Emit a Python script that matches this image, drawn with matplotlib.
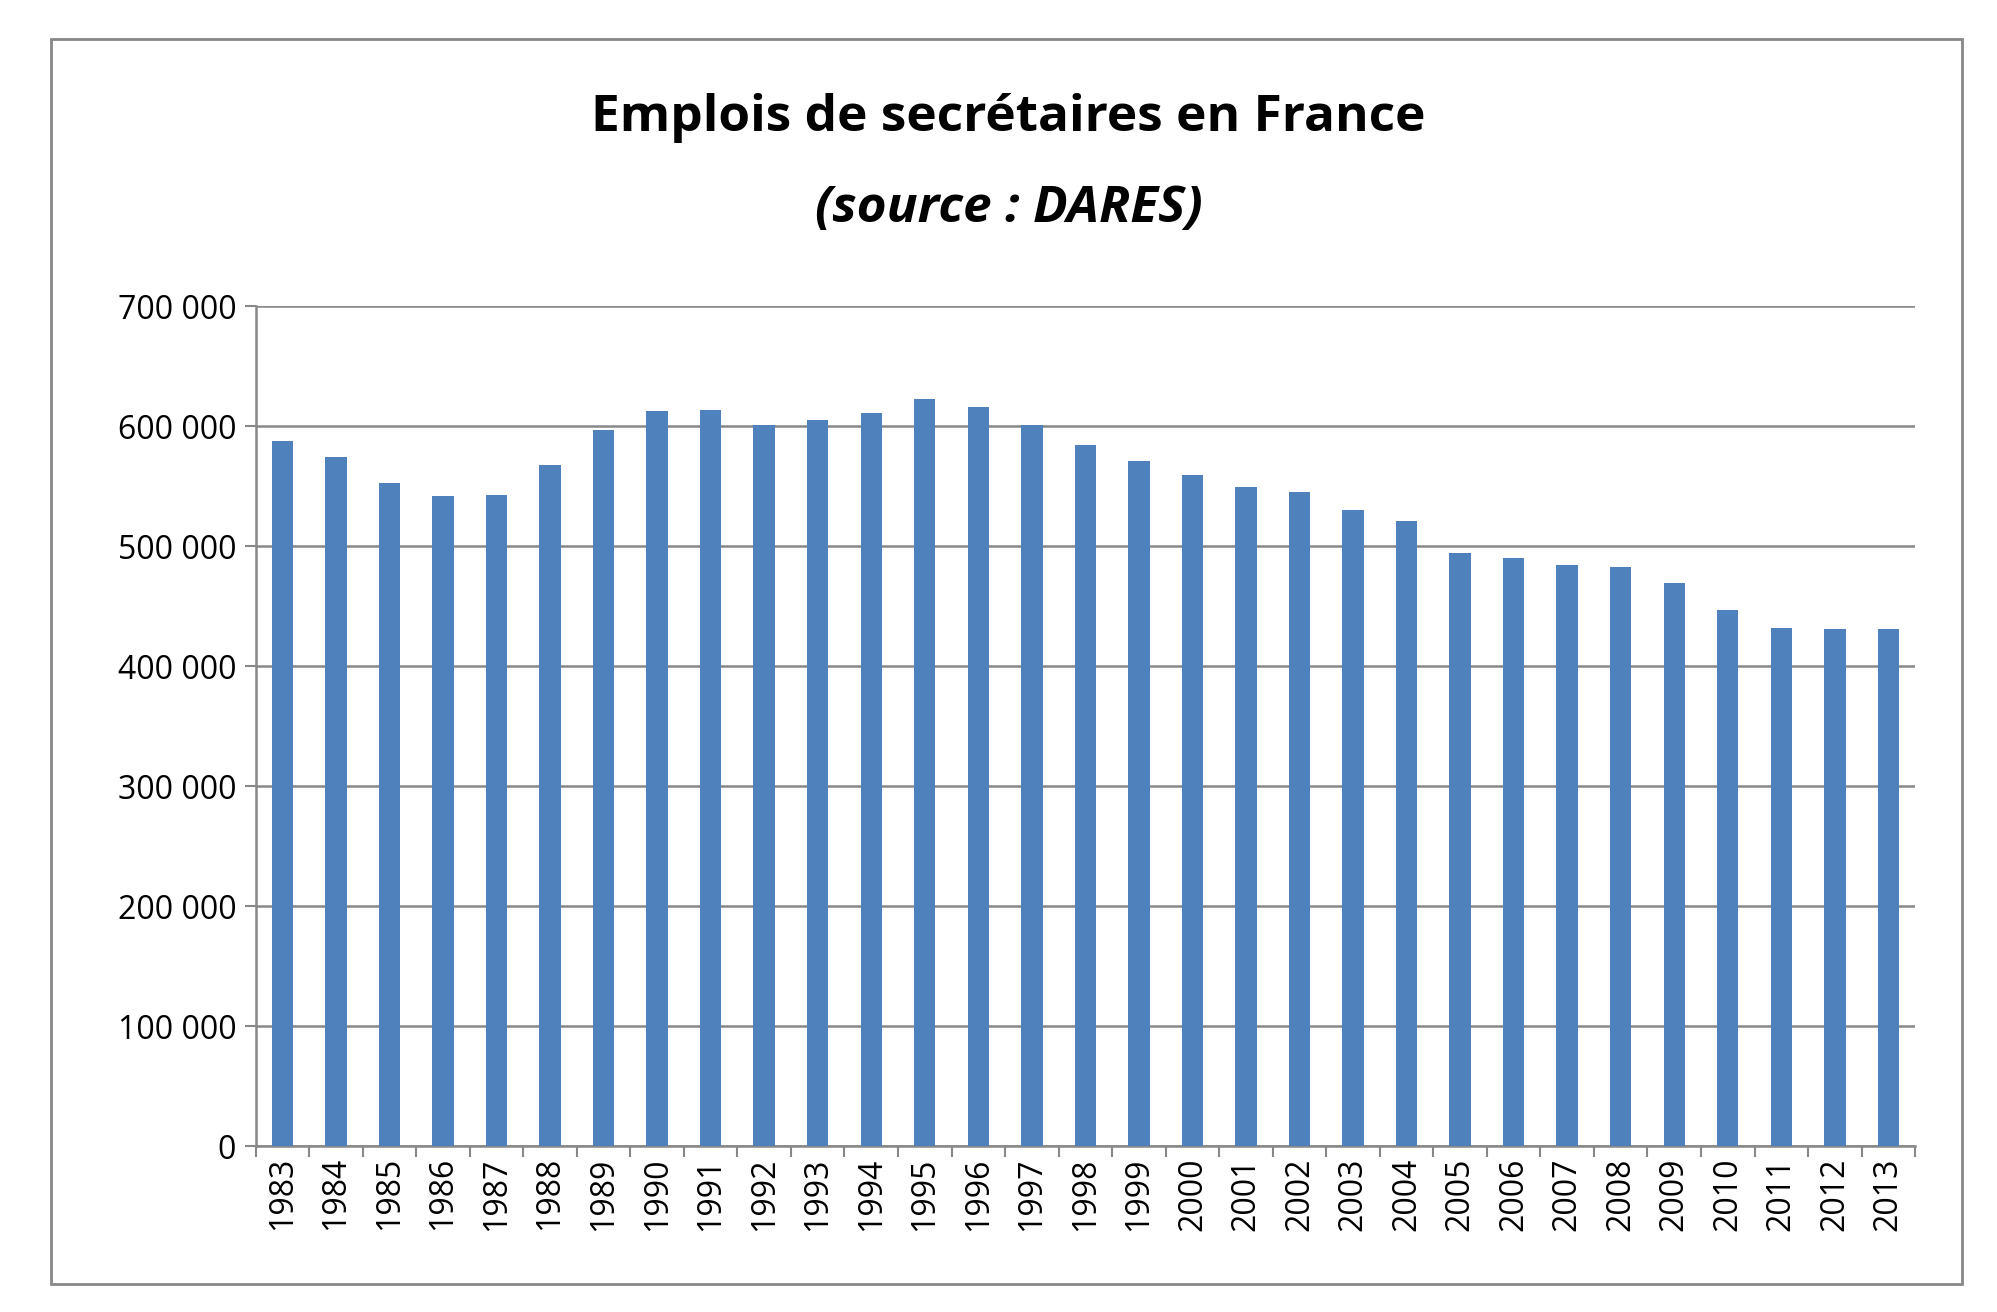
import numpy as np
import matplotlib.pyplot as plt
from matplotlib.patches import Rectangle

years = [str(y) for y in range(1983, 2014)]
emplois = [588000, 574000, 553000, 542000, 543000, 568000, 597000, 613000,
           614000, 601000, 605000, 611000, 623000, 616000, 601000, 584000,
           571000, 559000, 549000, 545000, 530000, 521000, 494000, 490000,
           484000, 483000, 469000, 447000, 432000, 431000, 431000]
yticks = list(range(0, 700001, 100000))

plt.rcParams['font.family'] = 'Open Sans'

fig = plt.figure(figsize=(19.97, 13.12), dpi=100)
fig.patches.append(Rectangle((40 / 1552, 1 - 998 / 1020), 1485 / 1552, 968 / 1020,
                             transform=fig.transFigure, fill=False,
                             ec='#888888', lw=2))
ax = fig.add_axes([0.128, 0.1265, 0.831, 0.64])

x = np.arange(len(years))
ax.bar(x, emplois, width=0.4, color='#4F81BD', zorder=3)

ax.set_xlim(-0.5, len(years) - 0.5)
ax.set_ylim(0, 700000)
ax.set_yticks(yticks)
ax.set_yticklabels([f'{v:,}'.replace(',', ' ') for v in yticks], fontsize=23)
ax.set_xticks(x)
ax.set_xticklabels(years, rotation=90, fontsize=23)
ax.tick_params(axis='x', length=0, pad=8)
ax.set_xticks(np.arange(-0.5, len(years)), minor=True)
ax.tick_params(axis='x', which='minor', length=8, color='#888888', width=1.5)
ax.tick_params(axis='y', length=8, color='#888888', width=1.5, pad=6)
ax.grid(axis='y', color='#888888', lw=1.8, zorder=0)
for s in ['top', 'right']:
    ax.spines[s].set_visible(False)
for s in ['left', 'bottom']:
    ax.spines[s].set_color('#888888')
    ax.spines[s].set_linewidth(1.8)

fig.text(0.505, 0.91, 'Emplois de secrétaires en France', ha='center',
         va='center', fontsize=37, fontweight='bold')
fig.text(0.505, 0.841, '(source : DARES)', ha='center', va='center',
         fontsize=37, fontweight='bold', style='italic')

fig.savefig('out.png', dpi=100)
